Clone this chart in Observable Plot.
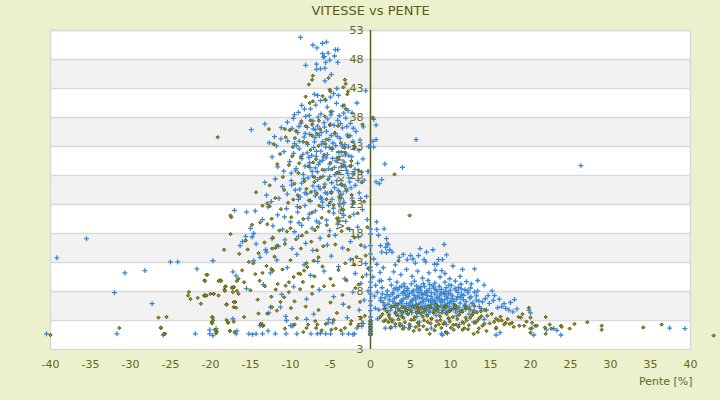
<!DOCTYPE html>
<html>
<head>
<meta charset="utf-8">
<script src="https://cdn.jsdelivr.net/npm/d3@7"></script>
<script src="https://cdn.jsdelivr.net/npm/@observablehq/plot@0.6"></script>
<style>
html,body{margin:0;padding:0;background:#EBF0CD;}
</style>
</head>
<body>
<div id="chart"></div>
<script>
const titleText = "VITESSE vs PENTE";
const xLabel = "Pente [%]";
const yLabel = "Vitesse [km/h]";
const xTicks = [-40,-35,-30,-25,-20,-15,-10,-5,0,5,10,15,20,25,30,35,40];
const yTicks = [-2,3,8,13,18,23,28,33,38,43,48,53];
const yTickLabels = ["3","3","8","13","18","23","28","33","38","43","48","53"];
const grayBands = [[3,8],[13,18],[23,28],[33,38],[43,48]];

// Blue series (+)
const blueUpper = [[-8.75,51.8],[-7.2,50.5],[-6.7,50],[-6.0,50.8],[-5.5,51],[-4.4,49.7],[-4.1,49.7],[-6,49],[-5.3,49.1],[-5.75,48.5],[-5.9,48.4],[-4.5,48.6],[-5.1,47.9],[-4.1,47.5],[-5.6,47.5],[-8.1,47],[-6.75,47.2],[-6.25,46.4],[-6.75,46.3],[-5.7,46.5],[-4.9,45.4],[-5.7,44.3],
[-7,42],[-6.6,41.8],[-6.25,40.9],[-5.6,41],[-5,41.5],[-4.6,42.1],[-4.2,43],[-4,41.8],[-1.7,40.5],[-0.6,42.6],[-8.6,40.1],[-9,38.9],[-9.5,38.5],[-3.5,40],[-2.8,39.2],[-7.5,39.5],[-6.2,38.6],[-4.8,39],[-3.9,38.3],[-2.3,38.8],[-8.1,38.2],[-5.4,39.8]];
const blueCore = [[-13.2,36.9],[-14.9,35.9],[-12,34.7],[-11.2,34.3],[-11.75,33.1],[-10.4,37.2],[-9.8,36.1],[-9.1,35.4],[-8.7,37],[-8.3,34.6],[-7.9,36.3],[-7.6,35.1],[-7.2,37.4],[-7,33.8],[-6.6,36.5],[-6.4,34.9],[-6.1,33.4],[-5.8,37.1],[-5.5,35.6],[-5.2,34.2],[-5,36.8],[-4.7,33.6],[-4.4,35.3],[-4.1,37.5],[-3.8,34.4],[-3.5,36.2],[-3.2,33.3],[-2.9,35],[-2.5,37],[-2.2,33.9],[-1.8,35.6],[-1.3,34.1],[-0.9,36.4],[-0.2,33],[0.4,37.7],[0.7,36.7],[0.7,34.2],[0.3,33.9],[5.7,34.2],[-9.5,33.5],[-8.9,33.9],[-6.9,35.9],[-4.9,34.9],[-3.1,37.9],
[-10.8,32.1],[-10.1,30.4],[-9.6,31.8],[-9.3,29.2],[-8.9,32.6],[-8.6,30.9],[-8.2,29.6],[-7.9,31.9],[-7.6,30.2],[-7.3,28.7],[-7.1,32.8],[-6.8,31.3],[-6.5,29.9],[-6.2,32.2],[-6,30.6],[-5.7,28.9],[-5.4,31.6],[-5.1,30],[-4.8,32.5],[-4.5,29.4],[-4.2,31],[-3.9,28.5],[-3.6,32],[-3.3,30.3],[-3,28.9],[-2.7,31.4],[-2.4,29.7],[-2,32.7],[-1.6,30.1],[-1.1,28.6],[-0.3,28.7],[0.4,32.9],[1.8,30],[4,29.4],[-11.6,29.5],[-12.3,31.2],[-9.9,28.4],[-8.4,28.2],[-6.9,29.3],[-5.6,32.9],[-4.3,30.5],[-3.1,29.5],[-2.2,28.3],[-7.7,31.1],[-5.9,31.2],
[-11.9,27.4],[-11,26.1],[-10.4,24.8],[-9.9,27.1],[-9.4,25.5],[-9,23.9],[-8.6,26.7],[-8.2,25],[-7.8,27.6],[-7.5,23.6],[-7.2,26.2],[-6.9,24.5],[-6.6,27.3],[-6.3,25.7],[-6,23.4],[-5.7,26.5],[-5.4,24.9],[-5.1,27.8],[-4.8,23.9],[-4.5,25.9],[-4.2,27.1],[-3.9,24.3],[-3.6,26.4],[-3.3,23.3],[-3,25.3],[-2.7,27.6],[-2.3,24.1],[-1.9,26.3],[-1.4,25],[-0.8,27.2],[1.4,27.3],[1.1,26.6],[0.7,26.9],[-13,24.6],[-12.4,23.5],[-8.8,24.3],[-6.5,26.1],[-4.9,25.2],[-3.7,24.8],[-2.6,26.9],[-0.5,24.4],[-13.2,26.8],
[-14.4,21.9],[-13.5,20.4],[-12.8,22.6],[-12.2,19.3],[-11.6,21.2],[-11,18.7],[-10.5,22.3],[-10,20],[-9.5,18.3],[-9.1,21.7],[-8.6,19.4],[-8.2,22.8],[-7.8,20.6],[-7.3,18.9],[-6.9,21.9],[-6.4,19.8],[-6,22.5],[-5.5,20.3],[-5.1,18.5],[-4.6,21.5],[-4.1,19.6],[-3.6,22.2],[-3.1,20.1],[-2.6,18.7],[-2.1,21.3],[-1.6,19.1],[-1,22.1],[-0.4,20.4],[0.75,20],[0.8,18.7],[1.7,18.8],[-15.5,21.7],[-15,18.9],[-14.6,18],[-17,22]];
const blueCoreExtra = [[-9.65,37.85],[-9.25,33.15],[-8.95,36.45],[-8.45,31.65],[-8.15,35.25],[-7.85,33.35],[-7.65,38.35],[-7.35,31.45],[-7.15,36.05],[-6.95,34.55],[-6.75,32.15],[-6.55,38.05],[-6.35,30.35],[-6.15,35.45],[-5.95,33.85],[-5.75,36.35],[-5.55,31.05],[-5.35,37.75],[-5.15,32.85],[-4.95,38.45],[-4.75,30.95],[-4.55,36.65],[-4.35,33.15],[-4.15,34.75],[-3.95,31.95],[-3.75,36.95],[-3.55,33.05],[-3.35,38.75],[-3.15,31.55],[-2.95,36.45],[-2.75,32.95],[-2.55,34.85],[-2.35,31.25],[-9.85,26.35],[-9.35,28.85],[-8.85,25.65],[-8.35,27.45],[-7.95,24.85],[-7.55,29.35],[-7.25,27.95],[-6.95,25.35],[-6.65,28.65],[-6.25,24.25],[-5.95,27.85],[-5.65,25.05],[-5.25,29.15],[-4.85,26.75],[-4.45,28.15],[-4.05,25.45],[-3.65,29.55],[-3.25,26.15],[-2.85,28.35],[-2.45,25.85],[-1.95,29.05],[-1.55,27.15],[-10.85,28.75],[-10.35,33.95],[-11.15,36.25],[-12.65,33.65],[-8.25,39.45],[-6.85,40.15],[-4.25,40.45],[-2.15,36.15],[-1.45,32.35],[-0.95,30.85],[-9.15,22.65],[-7.65,21.35],[-6.15,23.95],[-4.65,22.35],[-3.35,21.15],[-2.25,23.05],[-1.25,24.05],[-10.75,20.85],[-11.45,24.05],[-8.95,19.85],[-6.75,20.15],[-5.25,22.85],[-3.85,23.15]];
const blueLowLeft = [[-16.3,15.9],[-16,16.6],[-15.6,17.5],[-14.3,16.2],[-13,14.8],[-14.8,17.4],[-13.1,15.2],[-12.3,17.1],[-11.5,15.8],[-10.7,16.9],[-9.8,15.4],[-9,17.5],[-8.1,16.3],[-7.2,15.1],[-6.3,17.2],[-5.4,16],[-4.4,17.7],[-3.5,15.5],[-2.5,16.6],[-1.5,17.4],[-0.7,15.7],
[-35.5,17.1],[-39.2,13.8],[-30.7,11.2],[-28.2,11.6],[-32,7.8],[-27.3,5.9],[-25,13.1],[-24.1,13.1],[-21.7,11.9],[-19.7,13.3],[-17.2,11.4],[-16.8,10.7],[-17.2,3.3],[-14.6,13.3],[-15.5,8.5],[-13.8,13.9],[-12.5,11.2],[-11.7,13.4],[-10.4,12.1],[-9.2,14.4],[-8.3,12.6],[-7.5,10.8],[-6.6,13.2],[-5.8,11.5],[-4.9,14.1],[-4,12.3],[-3.2,10.2],[-2.5,13.5],[-1.9,11.1],[-1.2,9.4],[-0.6,12.8],[-13.4,9.2],[-11.1,7.5],[-9.6,8.8],[-8,6.7],[-6.4,8.3],[-4.6,7.1],[-3.4,5.8],[-2.2,7.9],[-1.4,4.8],[-0.8,6.5],[-12.5,5.3],[-11.25,5.3],[-10.6,3.7],[-10.5,3],[-12.7,4.3],[-8,3.2],[-7.1,4.1],[-5.2,3.2],[-2.9,3.5]];
const blueAxis = [[0,18.8],[0,17.9],[0,15.9],[0,14.5],[0,12.2],[0,11.6],[0,9.6],[0,8.7],[0,7.6],[0,6.4],[0,5.6],[0,4.7],[0,3.6],[0,2.9],[0,2.6],[0,2.3],[0,2],[0,1.7],[0,1.4],[0,1.1],[0,0.8],[0,0.5],[0.3,10.5],[0.5,7.2],[0.8,12.7],[1.1,9.8],[1.4,14.8],[1.9,15.6],[2.2,16.1],[2.4,15.2],[2.7,14.8],[2,14.7],[1.2,11.3],[0.6,5.1],[0.9,3.3],[-0.3,8.1],[-0.5,10.9],[0.4,13.6],[1.6,12.1],[1.3,6.9],[2,17.1],[2.1,16.2],[1,17.7],[1.25,15.9],[-0.2,33],[-0.3,28.7]];
const blueRightMid = [[6.2,15.4],[7,14.8],[7.8,15.2],[9.2,16.1],[9.5,14.3],[6,14.2],[6.7,13.5],[6.9,13.1],[8,12.7],[8.3,12.7],[8.5,13.5],[9,13.5],[7.3,11.2],[8.1,11.7],[13,11.9],[5,14.2],[5.3,13.6],[5.6,12.9],[3.6,13.9],[4.1,14.4],[4.6,13.5],[3.1,12.6],[2.9,11.4],[3.8,10.9],[4.5,11.8],[5.2,10.6],[5.9,11.5],[6.5,10.3],[7.2,9.9],[8.7,10.5],[9.3,11.1],[9.9,10.2],[10.6,9.8],[11.2,10.6],[12,9.7],[12.6,9.3],[13.4,9.9],[14.2,9.1],[8.9,11.6],[10.3,12.4],[11.5,11.8],[2.4,10.1],[3.3,9.6],[4.2,9.3],[5.5,9.8],[26.3,29.7]];
const blueRightCore = [[2.6,9.1],[3.9,8.9],[5.1,9.3],[6.3,8.8],[7.4,9.2],[8.6,8.9],[9.8,9.1],[11,8.7],[13,7.9],[13.4,8.1],[15.2,8.1],[14.7,7.3],[15.5,7.3],[18,6.6],[11.8,8.3],
[2.1,8.1],[2.8,7.8],[3.4,8.3],[4,7.7],[4.6,8.2],[5.2,7.9],[5.8,8.4],[6.4,7.6],[7,8.1],[7.6,7.8],[8.2,8.3],[8.8,7.7],[9.4,8],[10,7.6],[10.7,8.2],[11.4,7.5],[12.2,7.8],[1.5,7.6],
[1.8,6.9],[2.4,7.2],[3,6.8],[3.5,7.3],[4.1,6.7],[4.7,7.1],[5.3,6.6],[5.9,7.2],[6.5,6.8],[7.1,7.3],[7.7,6.7],[8.3,7],[8.9,6.6],[9.5,7.2],[10.2,6.8],[10.9,7.1],[11.6,6.6],[12.4,6.9],[13.2,6.5],[16.7,5.9],[14,6.2],
[1.6,6.1],[2.2,5.8],[2.8,6.3],[3.3,5.7],[3.9,6.2],[4.5,5.9],[5.1,6.4],[5.7,5.8],[6.3,6.1],[6.9,5.6],[7.5,6.2],[8.1,5.9],[8.7,6.3],[9.3,5.7],[9.9,6.1],[10.5,5.6],[11.2,6],[11.9,5.5],[12.7,5.9],[13.6,5.4],[16.4,5.4],[15.9,5.2],[17.3,4.8],[17.8,4.5],[18.3,5],[19.8,4.8],[20,4.3],
[1.9,5.1],[2.5,4.8],[3.1,5.3],[3.7,4.7],[4.3,5.2],[4.9,4.9],[5.5,5.4],[6.1,4.8],[6.7,5.1],[7.3,4.6],[7.9,5.2],[8.5,4.8],[9.1,5.3],[9.8,4.7],[10.4,5.1],[11.1,4.6],[11.9,5],[12.8,4.5],[14.5,4.8],
[2.3,4.1],[3.5,3.8],[4.6,4.2],[5.8,3.7],[7,4.1],[8.2,3.9],[9.5,4.3],[10.8,3.8],[12.3,4.1],[14.2,3.2],[2.8,3.1],
[3.2,8.6],[4.4,7.4],[5.6,6.9],[6.8,7.7],[8,6.4],[9.2,7.5],[10.4,6.3],[3.7,6],[4.9,5.6],[6,5.3],[7.2,5.5],[8.4,5.4],[9.6,5.9],[10.8,5.3],[4.2,8],[6.1,8.6],[7.9,8.6]];
const blueRightExtra = [[2.35,6.55],[2.95,8.45],[3.15,4.45],[3.25,7.05],[3.45,5.15],[3.65,8.75],[3.85,6.45],[4.05,5.55],[4.15,7.95],[4.35,4.65],[4.45,6.95],[4.65,8.55],[4.75,5.35],[4.85,7.65],[5.05,6.15],[5.15,4.35],[5.35,8.15],[5.45,7.35],[5.55,5.05],[5.65,6.55],[5.85,4.55],[5.95,7.85],[6.05,5.85],[6.15,6.95],[6.25,8.25],[6.35,4.25],[6.45,5.45],[6.55,7.45],[6.65,6.25],[6.75,8.85],[6.85,4.85],[6.95,6.65],[7.05,7.85],[7.15,5.25],[7.25,6.45],[7.35,8.45],[7.45,4.45],[7.55,7.15],[7.65,5.75],[7.75,6.35],[7.85,8.95],[7.95,4.95],[8.05,7.55],[8.15,6.05],[8.25,5.15],[8.35,8.05],[8.45,6.75],[8.55,4.35],[8.65,7.25],[8.75,5.55],[8.85,8.35],[8.95,6.15],[9.05,4.75],[9.15,7.85],[9.25,6.55],[9.35,5.25],[9.45,8.65],[9.55,4.55],[9.65,6.85],[9.75,7.65],[9.85,5.45],[9.95,8.25],[10.05,6.35],[10.15,4.95],[10.25,7.25],[10.35,5.85],[10.55,8.55],[10.65,4.45],[10.75,6.65],[10.95,7.85],[11.05,5.25],[11.25,6.95],[11.35,8.45],[11.45,4.85],[11.65,7.35],[11.75,5.65],[11.95,6.25],[12.15,8.15],[12.35,5.35],[12.55,7.05],[12.75,6.05],[12.95,4.75],[13.25,7.25],[13.55,6.35],[13.85,5.05],[14.35,6.75],[14.85,5.95],[15.35,6.45],[16.1,6.7],[16.9,5.1],[17.5,6.1],[2.55,5.35],[2.75,7.55],[3.05,5.95],[3.95,4.15],[4.25,8.85],[5.25,5.65],[5.75,8.95],[6.6,9.35],[8.05,9.45],[9.3,9.6],[10.1,9.05],[11.3,9.25],[12.5,8.6],[2.05,7.45],[1.75,5.55],[1.45,8.65],[1.25,6.45],[1.05,4.85],[0.85,7.85],[0.65,9.05],[1.35,9.85]];
const blueBottom = [[9.5,2.3],[9,0.5],[15.7,0.5],[16.2,0.9],[20.4,0.5],[22,1.4],[22.9,1.6],[23.8,0.5],[37.4,1.7],[39.3,1.6],[20.2,1.7],[1.85,1.7],[2.5,1.7],[3.1,2],[4,2.1],[4.25,1.8],[5,2],[6.1,2.7],[7.6,1.7],[8.85,0.7],[9.6,0.8],[11.1,2.3],[12.9,2.7],[23.3,1.3],
[-40.5,0.7],[-31.7,0.7],[-25.9,0.5],[-21.9,0.7],[-20.1,1.4],[-19.3,1.6],[-20.1,0.7],[-19.7,0.4],[-16.8,0.7],[-16.7,1.2],[-15.2,0.7],[-14.75,0.6],[-14.3,0.7],[-13.5,0.7],[-12.8,1.2],[-11.9,0.7],[-10.55,0.7],[-9.2,0.7],[-7.45,0.7],[-6.65,0.7],[-6.25,0.8],[-5.6,0.7],[-5,0.7],[-3.5,0.7],[-2.75,0.7],[-2.2,0.6],[-2,0.7],[-13.8,2.1],[-13.5,2.3],[-10,2.1],[-9.7,2.1],[-9.8,2.1],[-5.3,2.6],[-4.75,2.6],[-1.7,1.7],[-1.1,2],[-0.9,2.5]];

// Olive series (diamonds)
const oliveUpper = [[-5.25,44.8],[-7.2,45.2],[-7.3,44.5],[-7.7,43.7],[-3.2,44.5],[-3.1,43.8],[-3.4,43.2],[-2.8,42.5],[-2.9,42],[-5.1,42.8],[-5,42.5],[0.3,38],
[-8.1,41.6],[-7.6,40.5],[-7.2,40.8],[-6,41.7],[-5.7,41.1],[-5,39],[-5.7,38.2],[-7.5,37.5],[-7.3,36.8],[-12.7,36],[-10.7,36],[-10.1,35.8],[-3.3,40.1],[-3.1,39.5],[-1,36.8],[-19.1,34.6],[3,28.2],[4.9,21.1]];
const oliveCore = [[-12.1,33.4],[-11.3,31.7],[-10.6,34.6],[-10.2,29.8],[-9.7,32.9],[-9.3,35.7],[-9,28.4],[-8.7,31.2],[-8.4,33.8],[-8.1,36.5],[-7.8,29.6],[-7.5,32.4],[-7.3,34.9],[-7,27.7],[-6.8,30.8],[-6.5,33.1],[-6.3,36],[-6,29],[-5.8,31.6],[-5.5,34.2],[-5.3,27.3],[-5,30.2],[-4.8,32.7],[-4.5,35.3],[-4.2,28.5],[-4,31.1],[-3.7,33.6],[-3.4,29.6],[-3.1,31.9],[-2.8,34.7],[-2.4,30.5],[-2,33],[-1.5,28.9],[-8.9,30.1],[-6.7,35.2],[-5.1,36.7],[-9.8,31.3],
[-12.6,26.3],[-11.9,24.1],[-11.2,22.2],[-10.8,25.5],[-10.3,23.3],[-9.9,20.8],[-9.5,26.6],[-9.1,24.6],[-8.8,22.5],[-8.4,20.5],[-8,25.7],[-7.7,23.7],[-7.3,21.6],[-7,26.9],[-6.7,24.9],[-6.4,22.8],[-6.1,20.7],[-5.8,26],[-5.5,23.9],[-5.2,21.8],[-4.9,25],[-4.6,22.9],[-4.2,20.6],[-3.8,24.2],[-3.4,22.1],[-3,25.6],[-2.6,20.9],[-2.1,23.4],[-1.6,21.5],[-13.5,22.8],[-14.3,25.1],[-12.6,22.7],[-12.9,23.2],[-17.4,20.8],[-13.8,19.9],[-17.5,21.1],
[-0.4,19.1],[-0.8,23.5],[-1.1,26.8],[-0.6,14.2],[-0.3,12],[-1.5,9.2]];
const oliveCoreExtra = [[-9.45,34.45],[-8.65,37.35],[-7.95,33.65],[-7.15,30.25],[-6.45,37.45],[-5.65,33.45],[-4.85,29.05],[-4.05,36.55],[-3.25,32.75],[-2.55,29.65],[-8.25,27.05],[-7.45,25.15],[-6.25,27.65],[-5.05,23.35],[-3.65,26.55],[-2.35,24.65],[-9.65,23.85],[-10.95,27.75],[-11.65,29.95],[-12.35,20.55],[-10.45,18.35],[-8.55,17.65],[-6.95,18.55],[-5.45,19.45],[-3.95,20.15],[-2.85,18.85],[-13.25,16.45],[-14.65,12.85],[-16.05,11.65],[-15.35,15.25],[-13.85,9.85],[-11.85,8.35],[-9.95,5.15],[-8.45,9.65],[-7.25,8.85],[-4.65,9.05],[-3.15,12.85],[-1.75,13.95]];
const oliveLowLeft = [[-14.8,19.5],[-12.9,19.6],[-12.2,17.3],[-11.4,18.5],[-10.7,16.2],[-10,18.9],[-9.3,17],[-8.7,15.4],[-8,18.2],[-7.4,16.6],[-6.6,19.1],[-5.9,15.8],[-5.2,17.6],[-4.4,16.1],[-3.6,18.4],[-2.8,15.2],[-2,17.3],[-1.2,16],[-15.6,16.8],[-16.4,14.5],[-17.5,17.9],[-18.3,15.2],[-15.2,13.1],[-14,14.6],[-13,12.4],[-12,14],[-11,11.8],[-10,13.4],[-9,11.1],[-8,12.9],[-7,10.6],[-6,12.3],[-5,10.2],[-4,11.7],[-3,9.9],[-2,12.6],[-1,10.5],
[-11.7,15.9],[-11.9,15.5],[-12.3,15.4],[-12.4,11.9],[-12.2,11.6],[-13.5,11.2],[-14.4,11],[-15.8,9.6],[-18.8,9.9],[-18.7,9.9],[-20.4,10.9],[-20.75,9.9],[-17.1,8.7],[-17.3,8.7],[-18.1,8.9],[-18.25,8.3],[-20.75,7.3],[-20.5,7.3],[-19.6,7.6],[-16.9,6.2],[-17.1,5.3],[-18,5.8],[-19.8,3.6],[-19.7,3],[-19.8,2.5],
[-15.8,3.6],[-14,4.2],[-13.75,2.4],[-13.4,2.1],[-12.9,4.2],[-12.3,5.3],[-11.7,4.7],[-11.25,6.2],[-10.8,7],[-10.2,7.9],[-10.6,9],[-10.2,9.6],[-9.6,10.5],[-8.75,11],[-8.3,11.6],[-7.9,12.2],[-7.1,13.3],[-6.5,13.9],[-6.7,15.1],
[-15,8.2],[-14.1,6.6],[-13.2,8.9],[-12.4,7.1],[-11.6,9.3],[-9.5,6.3],[-8.8,8.4],[-8.1,5.4],[-7.3,7.6],[-6.5,4.8],[-5.8,8.9],[-5,6.1],[-4.2,4.3],[-3.5,7.4],[-2.7,5.3],[-1.9,8.6],[-1.3,6.2],[-0.7,3.8],[-9.2,3.4],[-6.9,2.9],[-4.6,3.1],[-2.4,2.9],[-1.2,3.5],
[-26.5,3.5],[-25.5,3.6],[-26.2,1.7],[-25.7,0.7],[-22.7,7.9],[-22.8,7.3],[-22.5,6.7],[-21.6,6.9],[-21.2,5.9],[-20.8,7.3],[-20.6,7.3],[-20,7.6],[-19.6,7.6],[-19,7.3],[-20.5,10.9],[-20.7,9.8],[-19,9.8],[-18.7,9.8],[-18.2,8.8],[-18.2,8.1],[-17.3,8.6],[-17.2,7.9],[-17.1,8.8],[-16.7,9.8],[-16.5,10.2],[-16.7,8.1],[-16.5,7.6],[-18,5.7],[-17.1,6.2],[-16.8,5.2],[-19.7,3.5],[-18,3.1],[-17.8,2.6],[-17.1,2.8],[-19.2,1.1],[-17.6,1.2]];
const oliveBottom = [[-31.4,1.7],[-26.2,1.8],[-25.8,0.7],[-19.85,2.7],[-19.45,1.4],[-19.3,0.8],[-17.55,1.2],[-17.8,2.7],[-17,1],[-13.7,2.4],[-13.5,2.1],[-10.7,1.6],[-9.5,2.3],[-8.4,1],[-8,1.7],[-7.8,2.3],[-6.8,1.7],[-6.65,2.3],[-6.1,1.3],[-5.6,2.4],[-4.9,1.4],[-4.35,1.6],[-3.7,1.3],[-3.2,1.7],[-2.5,2.4],[-1.5,2.1],[-40,0.5],
[0,3],[0,2.4],[0,1.8],[0,1.2],[0,0.6]];
const oliveRight = [[3.4,5.8],[5.8,5.6],[8.2,5.7],[9.4,5.5],[10.6,5.6],[11.8,5.4],[13,5.5],
[1.7,5],[2.6,5.3],[3.5,4.8],[4.3,5.2],[5.1,4.7],[5.9,5.1],[6.7,4.6],[7.5,5.2],[8.3,4.8],[9.1,5.1],[9.9,4.6],[10.7,5],[11.5,4.5],[12.4,4.9],[13.3,4.4],[14.3,4.8],
[1.5,4.1],[2.3,3.8],[3.1,4.3],[3.9,3.7],[4.7,4.1],[5.5,3.6],[6.3,4.2],[7.1,3.8],[7.9,4.3],[8.7,3.7],[9.5,4.1],[10.3,3.6],[11.1,4],[11.9,3.5],[12.7,3.9],[13.6,3.4],[14.6,3.8],[15.7,3.3],[16.4,3],[16,3],[19.8,5.2],[20,3.5],[20.2,2.6],[19.5,2.8],[19.2,2.1],[19,4.1],[18.8,3.5],[18.5,3.6],
[1.9,3.1],[2.7,2.8],[3.5,3.2],[4.3,2.7],[5.1,3.1],[5.9,2.6],[6.7,3],[7.5,2.5],[8.3,2.9],[9.1,2.4],[9.9,2.8],[10.7,2.3],[11.5,2.7],[12.3,2.2],[13.1,2.6],[14,2.1],[14.9,2.5],[17.9,1.9],[17.7,2.6],[17.4,2.4],[16.9,2.6],[16.7,2.3],[15.7,1.6],
[2.25,2.7],[3.1,2.4],[3.7,2.1],[5.4,1.2],[6.1,1.4],[7.4,0.7],[8.85,1.7],[9.4,1],[12.9,0.7],[13.4,1],[15.7,1.8],[18.6,2.1],[20,1.6],[20.6,2.1],[21.8,1.8],[22.6,1.6],[23.8,2.1],[24.9,1.6],[27.1,2.7],[28.9,2.1],[28.9,1.4],[34.1,1.8],[36.4,2.3],[42.9,0.4],[21.9,3.6],[22.4,2.3],[21.9,0.7],[23.9,1.9],[25.5,2.4],[11.5,1.4],[10.4,1.4],[9.5,0.9],[20,0.9],[20.8,2.1],[4.8,1.6],[6.6,2],[8,1.3],[11,1.9],[12.2,1.5],[14.5,1.2],
[3.5,13.3],[4,4.5],[6,4.4],[7.6,3.3],[9.8,3.3],[12,3],[13.8,4.6]];
const oliveRightExtra = [[2.05,4.55],[2.45,3.35],[2.85,5.45],[3.25,3.95],[3.65,2.45],[3.95,5.25],[4.15,3.45],[4.55,4.75],[4.85,2.35],[5.25,5.35],[5.45,3.15],[5.75,4.35],[6.05,2.15],[6.35,5.15],[6.55,3.65],[6.85,4.95],[7.15,2.75],[7.35,5.45],[7.65,3.35],[7.95,4.65],[8.15,2.05],[8.45,5.25],[8.75,3.05],[8.95,4.35],[9.25,2.65],[9.55,5.35],[9.75,3.45],[10.05,4.85],[10.35,2.25],[10.55,5.25],[10.85,3.25],[11.25,4.55],[11.65,2.55],[11.95,5.15],[12.45,3.45],[12.85,4.25],[13.35,2.95],[13.85,3.75],[14.25,2.45],[15.15,4.15],[15.45,2.75],[16.25,3.65],[17.15,3.25],[1.65,2.85],[1.25,3.65],[2.55,1.85],[4.05,1.55],[5.65,1.85],[7.05,1.45],[8.55,2.35],[10.05,1.75],[11.75,1.65],[13.55,1.65]];

const blue = [].concat(blueUpper, blueCore, blueCoreExtra, blueLowLeft, blueAxis, blueRightMid, blueRightCore, blueRightExtra, blueBottom);
const olive = [].concat(oliveUpper, oliveCore, oliveCoreExtra, oliveLowLeft, oliveBottom, oliveRight, oliveRightExtra);

const plusSymbol = {draw(ctx, size) {
  const r = Math.sqrt(size / Math.PI);
  ctx.moveTo(-r, 0); ctx.lineTo(r, 0);
  ctx.moveTo(0, -r); ctx.lineTo(0, r);
}};
const diamondSymbol = {draw(ctx, size) {
  const r = Math.sqrt(size / Math.PI);
  ctx.moveTo(0, -r); ctx.lineTo(r, 0); ctx.lineTo(0, r); ctx.lineTo(-r, 0); ctx.closePath();
}};

const textColor = "#66661E";
const chart = Plot.plot({
  width: 720,
  height: 400,
  marginLeft: 50,
  marginRight: 30,
  marginTop: 30,
  marginBottom: 51,
  style: {background: "#EBF0CD", fontFamily: "DejaVu Sans", overflow: "visible"},
  x: {domain: [-40, 40]},
  y: {domain: [-2, 53], axis: null},
  marks: [
    Plot.frame({fill: "white", stroke: "none"}),
    Plot.rect(grayBands, {y1: d => d[0], y2: d => d[1], fill: "#F2F2F2"}),
    Plot.ruleY(yTicks.slice(1), {stroke: "#D9D9D9", strokeWidth: 1.5}),
    Plot.frame({stroke: "#D9D9D9", strokeWidth: 1.5}),
    Plot.text([yLabel], {frameAnchor: "left", dx: 290, rotate: -90, textAnchor: "middle", fontSize: 11, fill: textColor}),
    Plot.ruleX([0], {stroke: "#5C5C00", strokeWidth: 1.5}),
    Plot.dot(blue, {x: d => d[0], y: d => d[1], symbol: plusSymbol, r: 2.5, stroke: "#3A87D8", strokeWidth: 1.3, fill: "none"}),
    Plot.dot(olive, {x: d => d[0], y: d => d[1], symbol: diamondSymbol, r: 1.7, stroke: "#555500", strokeWidth: 0.9, fill: "#8E8E34"}),
    Plot.text(yTicks, {x: 0, y: d => d, text: (d, i) => yTickLabels[i], textAnchor: "end", dx: -7, fontSize: 11, fill: textColor}),
    Plot.axisX({ticks: xTicks, tickSize: 0, tickPadding: 11, tickFormat: d => String(d), fontSize: 11, color: textColor, label: null}),
    Plot.text([xLabel], {frameAnchor: "bottom-right", dy: 32, dx: 2, textAnchor: "end", lineAnchor: "middle", fontSize: 11, fill: textColor}),
    Plot.text([titleText], {frameAnchor: "top", dy: -20, lineAnchor: "middle", fontSize: 13, fill: "#5A5A14"})
  ]
});
document.getElementById("chart").appendChild(chart);
</script>
</body>
</html>
